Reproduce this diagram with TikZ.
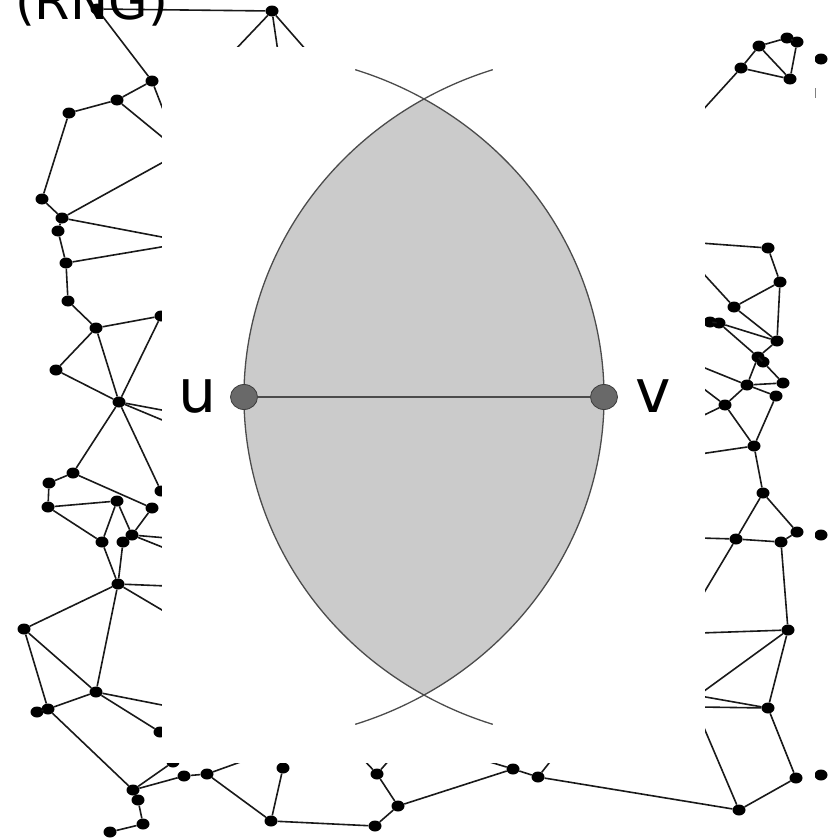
\documentclass[tikz,border=0pt]{standalone}
\usepackage{fontspec}
\newfontfamily\dejavu{DejaVu Sans}
\usetikzlibrary{shapes.geometric}
\definecolor{lensfill}{RGB}{203,203,203}
\definecolor{lensline}{RGB}{75,75,75}
\definecolor{dotfill}{RGB}{105,105,105}
\definecolor{dotline}{RGB}{60,60,60}
\definecolor{edgecol}{RGB}{25,25,25}
\begin{document}
\begin{tikzpicture}[x=1pt,y=-1pt,
  gn/.style={shape=ellipse,fill=black,minimum width=13pt,minimum height=11pt,inner sep=0pt},
  ed/.style={draw=edgecol,line width=1.6pt},
  lensarc/.style={draw=lensline,line width=1.3pt},
  uvdot/.style={shape=ellipse,fill=dotfill,draw=dotline,line width=0.8pt,minimum width=27pt,minimum height=25pt,inner sep=0pt},
  uvline/.style={draw=lensline,line width=2.2pt},
  lbl/.style={font=\dejavu\fontsize{60}{60}\selectfont,inner sep=0pt,text=black}]
\useasboundingbox (0,0) rectangle (829,839);
\clip (0,0) rectangle (829,839);
\fill[white] (0,0) rectangle (829,839);
% ---- graph nodes
\foreach \n/\x/\y in {a1/97/9,a2/272/11,a3/152/81,a4/117/100,a5/69/113,a6/42/199,a7/62/218,a8/58/231,a9/66/263,
 b1/68/301,b2/96/328,b2b/161/316,b3/56/370,b4/119/402,b5/73/473,b6/49/483,b6b/161/491,b7/48/507,b8/117/501,b9/152/508,b10/102/542,b11/123/542,b12/132/535,
 c2/118/584,c3/24/629,c4/96/692,c5/48/709,c5b/37/712,c6/160/732,c7/133/790,c8/138/800,c9/143/824,c10/110/832,c11b/173/762,c11/184/776,c12/207/774,c13/271/821,c14/283/768,
 d1/375/826,d2/398/806,d3/377/774,d4/513/769,d5/538/777,
 e2/739/810,e3/796/778,e4/768/708,e5/788/630,e6/781/542,e7/736/539,
 f1/780/282,f2/734/307,f3a/710/322,f3b/719/323,f4/777/341,f5a/758/357,f5b/763/362,f6/747/385,f7/783/383,f8/776/396,f9/725/405,f10/754/446,f11/763/493,f13/797/532,
 g1/759/46,g2a/787/38,g2b/797/42,g3/741/68,g4/790/79,h1/768/248}
 {\node[gn] (\n) at (\x,\y) {};}
% ---- free ends hidden under the white panel
\foreach \n/\x/\y in {x1/234/51,x2/278/52,x3/307/51,x4/164/112,x5/167/141,x6/167/160,x7/167/238,x8/167/246,
 x9/167/411,x10/167/422,x11/167/538,x12/167/549,x13/167/586,x14/167/613,x15/167/706,
 x16/246/760,x17/362/758,x18/391/758,x19/480/759,x20/553/758,
 x21/702/723,x22/700/696,x23/700/707,x24/700/633,x25/700/694,x26/702/596,x27/700/538,
 x28/700/454,x29/700/386,x30/700/417,x31/700/366,x32/701/271,x33/700/243,x34/701/112}
 {\coordinate (\n) at (\x,\y);}
% ---- graph edges
\foreach \p/\q in {a1/a2,a2/x1,a2/x2,a2/x3,a1/a3,a3/x4,a3/a4,a4/x5,a4/a5,a5/a6,a6/a7,a7/x6,a7/x7,a7/a8,a8/a9,a9/x8,a9/b1,
 b1/b2,b2/b2b,b2/b3,b2/b4,b3/b4,b4/b2b,b4/x9,b4/x10,b4/b5,b4/b6b,b5/b6,b6/b7,b7/b8,b5/b9,b7/b10,b8/b10,b8/b12,b9/b12,b11/b12,b12/x11,b12/x12,
 b10/c2,b11/c2,c2/x13,c2/x14,c2/c3,c2/c4,c3/c4,c3/c5,c4/c5,c5/c5b,c4/x15,c4/c6,c5/c7,c7/c8,c8/c9,c9/c10,c7/c11b,c7/c11,c11/c12,c12/x16,c12/c13,c13/c14,c13/d1,
 d1/d2,d2/d3,d3/x17,d3/x18,d2/d4,d4/x19,d4/d5,d5/x20,d5/e2,e2/e3,e2/x21,e3/e4,e4/x22,e4/x23,e4/e5,e5/x24,e5/x25,e5/e6,e7/e6,e7/x26,e7/x27,e7/f11,f11/f13,f13/e6,
 f10/f11,f10/x28,f9/f10,f8/f10,f9/x29,f9/x30,f6/f9,f6/x31,f5a/f6,f5b/f7,f6/f7,f6/f8,f3b/f4,f3b/f5a,f2/f4,f1/f2,f1/f4,f2/x32,f4/f5a,f5a/f5b,f3a/f3b,
 h1/f1,h1/x33,g1/g2a,g2a/g2b,g1/g3,g1/g4,g3/g4,g2b/g4,g3/x34}
 {\draw[ed] (\p) -- (\q);}
% ---- partial nodes at the right edge
\begin{scope}
\clip (815,0) rectangle (829,839);
\node[gn] (r1) at (821,59) {};
\node[gn] (r2) at (821,535) {};
\node[gn] (r3) at (821,775) {};
\end{scope}
\coordinate (s1) at (815.5,88);
\coordinate (s2) at (815.5,98);
\draw[draw=gray,line width=1pt] (s1) -- (s2);
% ---- title, cut at the top
\node[font=\dejavu\fontsize{51}{51}\selectfont,anchor=base,inner sep=0pt] (title) at (91.5,19) {(RNG)};
% ---- white panel
\fill[white] (162,47) rectangle (705,763);
% ---- lune
\begin{scope}[shift={(424,397)},yscale=0.956]
\fill[lensfill] (0,311.77) arc[start angle=120,end angle=240,radius=360]
  arc[start angle=-60,end angle=60,radius=360] -- cycle;
\draw[lensarc] (0,311.77) arc[start angle=120,end angle=240,radius=360];
\draw[lensarc] (0,-311.77) arc[start angle=-60,end angle=60,radius=360];
\draw[lensarc] (180,0) ++(120:360) arc[start angle=120,end angle=108,radius=360];
\draw[lensarc] (180,0) ++(240:360) arc[start angle=240,end angle=252,radius=360];
\draw[lensarc] (-180,0) ++(60:360) arc[start angle=60,end angle=72,radius=360];
\draw[lensarc] (-180,0) ++(-60:360) arc[start angle=-60,end angle=-72,radius=360];
\end{scope}
\node[uvdot] (u) at (244,397) {};
\node[uvdot] (v) at (604,397) {};
\draw[uvline] (u) -- (v);
\node[lbl] (ul) at (198,396) {u};
\node[lbl] (vl) at (653,396) {v};
\end{tikzpicture}
\end{document}
